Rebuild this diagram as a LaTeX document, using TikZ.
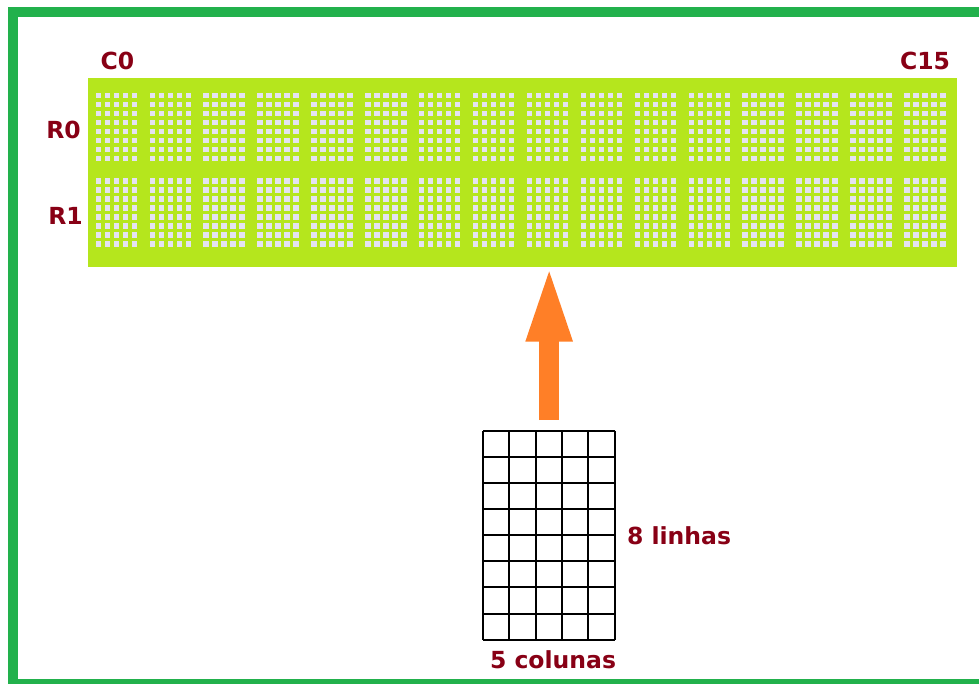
\documentclass[tikz,border=0pt]{standalone}
\usepackage{fontspec}
\setmainfont{DejaVu Sans}
\usetikzlibrary{arrows.meta}
\definecolor{framegreen}{HTML}{22B14C}
\definecolor{lcdlime}{HTML}{B5E61D}
\definecolor{dotcol}{HTML}{E4E2F2}
\definecolor{labred}{HTML}{880015}
\definecolor{arrorange}{HTML}{FF7F27}
\tikzset{
  lab/.style={text=labred, font=\bfseries\fontsize{23.5}{27}\selectfont, inner sep=0pt},
  lcdbox/.style={fill=lcdlime, draw=none, inner sep=0pt, minimum width=869pt, minimum height=188.5pt},
  gridbox/.style={draw=none, inner sep=0pt, minimum width=131.7pt, minimum height=209.3pt},
  gridline/.style={line width=2pt, black},
  bigarrow/.style={draw=arrorange, line width=20pt, -{Triangle[length=81pt 0 0, width=40pt 0 0, fill=arrorange]}},
}
\begin{document}
\begin{tikzpicture}[x=1pt,y=-1pt]
\useasboundingbox (0,0) rectangle (979,683);
\clip (0,0) rectangle (979,683);
% frame
\draw[framegreen, line width=10pt] (13,12) rectangle (1000,684);
% LCD
\node[lcdbox] (lcd) at (522.5,172.25) {};
\foreach \c in {0,...,15}{
  \foreach \r in {0,1}{
    \foreach \i in {0,...,4}{
      \foreach \j in {0,...,7}{
        \fill[dotcol] ({116.3+53.9*\c+9*\i-18-2.7},{127+85.5*\r+9*\j-31.5-2.7}) rectangle ++(5.4,5.4);
      }
    }
  }
}
\node[lab] (c0) at (117.5,61) {C0};
\node[lab] (c15) at (925,61) {C15};
\node[lab] (r0) at (63.5,130) {R0};
\node[lab] (r1) at (65.5,215.5) {R1};
% grid 5x8
\node[gridbox] (grid) at (549.15,535.35) {};
\foreach \i in {0,...,5}{
  \draw[gridline] ([xshift=\i*26.34pt]grid.north west) -- ([xshift=\i*26.34pt]grid.south west);
}
\foreach \j in {0,...,8}{
  \draw[gridline] ([yshift=-\j*26.1625pt]grid.north west) -- ([yshift=-\j*26.1625pt]grid.north east);
}
\node[lab] (lin) at (679,536) {8 linhas};
\node[lab] (col) at (553,660) {5 colunas};
% arrow
\draw[bigarrow, shorten <=10.5pt, shorten >=-6pt] (grid.north) -- (grid.north |- lcd.south);
\end{tikzpicture}
\end{document}
